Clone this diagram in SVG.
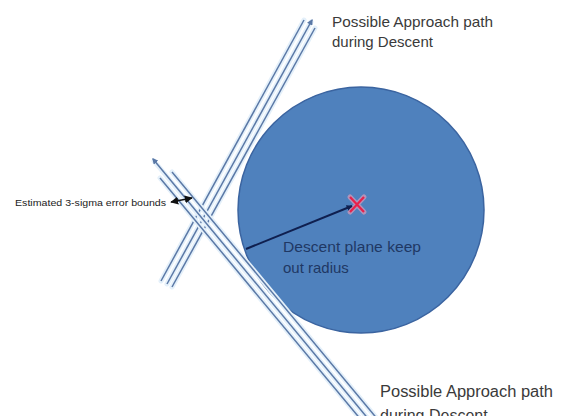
<svg xmlns="http://www.w3.org/2000/svg" width="563" height="416" viewBox="0 0 563 416">
<defs>
<marker id="pathArrow" viewBox="0 0 10 10" refX="8" refY="5" markerWidth="4" markerHeight="4" orient="auto">
<path d="M0,0 L10,5 L0,10 z" fill="#5a78a6"/>
</marker>
<marker id="blackArrow" viewBox="0 0 10 10" refX="9" refY="5" markerWidth="5" markerHeight="5" orient="auto-start-reverse">
<path d="M0,0 L10,5 L0,10 z" fill="#111"/>
</marker>
<marker id="navyArrow" viewBox="0 0 10 10" refX="9" refY="5" markerWidth="3" markerHeight="3" orient="auto">
<path d="M0,0 L10,5 L0,10 z" fill="#0f1f4f"/>
</marker>
</defs>
<style>
.halo{stroke:#e4f0fa;stroke-width:5;fill:none;stroke-linecap:round}
.ln{stroke:#5a78a6;stroke-width:1.5;fill:none}
.lbl{font-family:"Liberation Sans",Arial,sans-serif;fill:#3a3a3a}
.navy{font-family:"Liberation Sans",Arial,sans-serif;fill:#1f3864;font-size:15px}
</style>
<rect width="563" height="416" fill="#ffffff"/>
<g id="keepout-circle">
<circle cx="361" cy="210" r="123" fill="#4f81bd" stroke="#3b64a0" stroke-width="1.5"/>
</g>
<g id="target-x">
<path d="M350,197 L364,212 M364,197 L350,212" stroke="#f4a0b8" stroke-width="5" stroke-linecap="round" fill="none" opacity="0.6"/>
<path d="M350,197 L364,212 M364,197 L350,212" stroke="#e8204a" stroke-width="2.2" fill="none"/>
</g>
<g id="connectors">
<g id="upper-path">
<line class="halo" x1="161" y1="281" x2="304" y2="20"/>
<line class="halo" x1="167" y1="284" x2="311" y2="22"/>
<line class="halo" x1="172" y1="287" x2="315" y2="28"/>
<line class="ln" x1="161" y1="281" x2="304" y2="20"/>
<line class="ln" x1="167" y1="284" x2="312" y2="20" marker-end="url(#pathArrow)"/>
<line class="ln" x1="172" y1="287" x2="315" y2="28"/>
</g>
<g id="lower-path">
<line class="halo" x1="160" y1="178" x2="362" y2="421"/>
<line class="halo" x1="154" y1="161" x2="370" y2="421"/>
<line class="halo" x1="172" y1="172" x2="379" y2="421"/>
<line class="ln" x1="160" y1="178" x2="362" y2="421"/>
<line class="ln" x1="370" y1="421" x2="153" y2="159" marker-end="url(#pathArrow)"/>
<line class="ln" x1="172" y1="172" x2="379" y2="421"/>
</g>
<line id="error-bounds" x1="171" y1="202" x2="192" y2="198" stroke="#111" stroke-width="1.6" marker-start="url(#blackArrow)" marker-end="url(#blackArrow)"/>
<line id="radius" x1="246" y1="249" x2="352" y2="206" stroke="#0f1f4f" stroke-width="2" marker-end="url(#navyArrow)"/>
</g>
<g id="label-upper">
<text class="lbl" font-size="15" x="332" y="27" textLength="161" lengthAdjust="spacingAndGlyphs">Possible Approach path</text>
<text class="lbl" font-size="15" x="332" y="47">during Descent</text>
</g>
<g id="label-lower">
<text class="lbl" font-size="16" x="380" y="397" textLength="173" lengthAdjust="spacingAndGlyphs">Possible Approach path</text>
<text class="lbl" font-size="16" x="380" y="421">during Descent</text>
</g>
<g id="label-error">
<text font-family="'Liberation Sans',Arial,sans-serif" font-size="9.5" fill="#222" x="15" y="206" textLength="151" lengthAdjust="spacingAndGlyphs">Estimated 3-sigma error bounds</text>
</g>
<g id="label-radius">
<text class="navy" x="283" y="252" textLength="138" lengthAdjust="spacingAndGlyphs">Descent plane keep</text>
<text class="navy" x="283" y="273">out radius</text>
</g>
</svg>
